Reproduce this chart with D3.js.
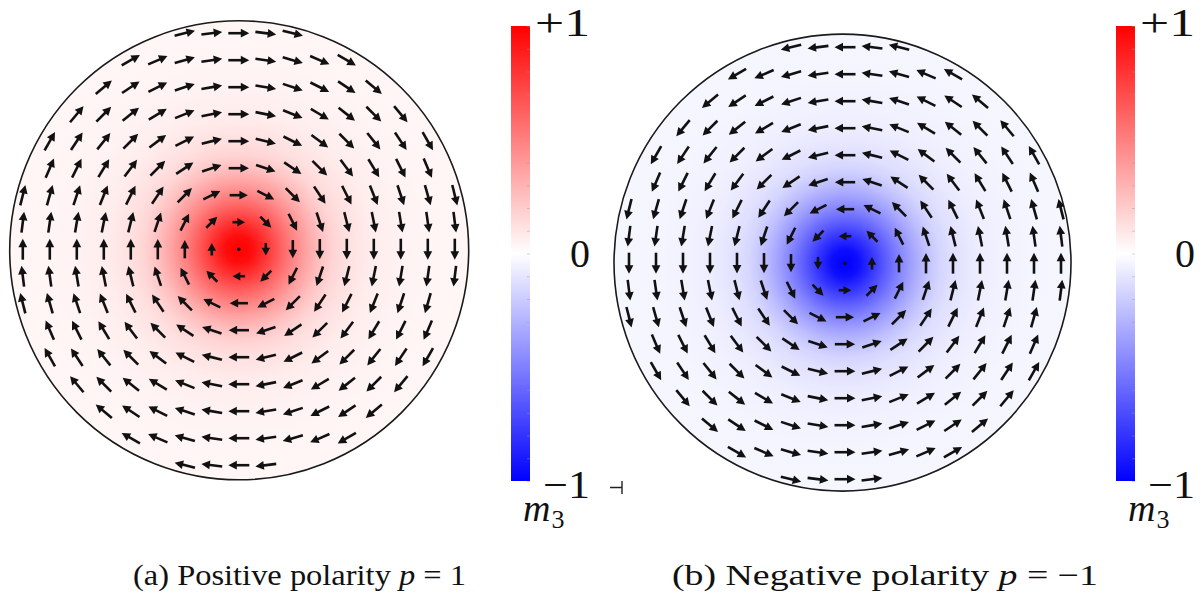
<!DOCTYPE html>
<html>
<head>
<meta charset="utf-8">
<script src="https://cdn.jsdelivr.net/npm/d3@7"></script>
<style>
  body { margin: 0; background: #fff; }
  svg { display: block; }
  text { fill: #111; }
</style>
</head>
<body>
<svg id="fig" width="1202" height="603"></svg>
<script>
// Mesh rows (k = -8..8, top to bottom) and the column range of nodes in each row
const rowIndex = [-8, -7, -6, -5, -4, -3, -2, -1, 0, 1, 2, 3, 4, 5, 6, 7, 8];
const colMin   = [-2, -4, -5, -6, -7, -7, -8, -8, -8, -8, -8, -7, -7, -6, -5, -4, -2];
const colMax   = [ 2,  4,  5,  6,  7,  7,  8,  8,  8,  8,  7,  7,  7,  6,  5,  4,  1];

// Radial profile of the out-of-plane magnetisation |m3| (r in mesh spacings)
const profileR  = [0, 0.5, 1, 1.5, 2, 2.5, 3, 3.5, 4, 5, 6, 7, 9];
const profileM3 = [1, 0.95, 0.8, 0.64, 0.49, 0.36, 0.25, 0.17, 0.12, 0.07, 0.05, 0.04, 0.035];

// The two panels: core polarity and caption
const polarity      = [1, -1];
const captionText   = ["(a) Positive polarity ", "(b) Negative polarity "];
const captionValue  = ["1", "\u22121"];

// Colour bar ticks
const cbarTicks      = [1, 0, -1];
const cbarTickLabels = ["+1", "0", "\u22121"];
const cbarLabel      = "m";
const cbarLabelSub   = "3";

const SERIF = '"Liberation Serif", "Times New Roman", Times, "DejaVu Serif", serif';

const svg = d3.select("#fig");
const defs = svg.append("defs");

const color = d3.scaleLinear()
  .domain([-1, 0, 1])
  .range(["#0000ff", "#ffffff", "#ff0000"]);
const m3At = d3.scaleLinear().domain(profileR).range(profileM3).clamp(true);

const panels = [
  { cx: 238.8, cy: 249.2, step: 27.0, diskX: 239.2, diskY: 250.3, diskR: 229.5,
    barX: 511, capX: 133, capW: 333, capEndX: 590, labX: 523 },
  { cx: 845.0, cy: 263.2, step: 27.0, diskX: 842.5, diskY: 262.6, diskR: 228.5,
    barX: 1116, capX: 672, capW: 426, capEndX: 1195, labX: 1128 }
];

const barTop = 26, barBottom = 481, barW = 19;
const arrowMax = 21, headLen = 8.5, headHalf = 4.4;
const labelWidth = { "+1": 55, "0": 20, "\u22121": 47 };

panels.forEach((P, pi) => {
  const p = polarity[pi];
  const g = svg.append("g");

  const x = d3.scaleLinear().domain([-8, 8]).range([P.cx - 8 * P.step, P.cx + 8 * P.step]);
  const y = d3.scaleLinear().domain([-8, 8]).range([P.cy - 8 * P.step, P.cy + 8 * P.step]);
  const rPix = d3.scaleLinear().domain([0, 9]).range([0, 9 * P.step]);

  // m3 background of the disk
  const grad = defs.append("radialGradient")
    .attr("id", "core" + pi)
    .attr("gradientUnits", "userSpaceOnUse")
    .attr("cx", x(0)).attr("cy", y(0)).attr("r", rPix(9))
    .attr("fx", x(0)).attr("fy", y(0));
  grad.selectAll("stop").data(profileR).join("stop")
    .attr("offset", d => d / 9)
    .attr("stop-color", (d, i) => color(p * profileM3[i]));

  g.append("circle")
    .attr("cx", P.diskX).attr("cy", P.diskY).attr("r", P.diskR)
    .attr("fill", "url(#core" + pi + ")")
    .attr("stroke", "#1a1a1a").attr("stroke-width", 1.6);

  // mesh nodes
  const nodes = [];
  rowIndex.forEach((k, ri) => {
    for (let i = colMin[ri]; i <= colMax[ri]; i++) nodes.push({ i, k });
  });

  // in-plane magnetisation: vortex circulating around the core
  const arrows = g.append("g");
  nodes.forEach(n => {
    const r = Math.hypot(n.i, n.k);
    const px = x(n.i), py = y(n.k);
    if (r === 0) {
      arrows.append("circle").attr("cx", px).attr("cy", py).attr("r", 1.8).attr("fill", "#111");
      return;
    }
    const m = m3At(r);
    const L = arrowMax * Math.sqrt(1 - m * m);
    const tx = p * (-n.k) / r, ty = p * (n.i) / r;
    const nx = -ty, ny = tx;
    const h = Math.min(headLen, L * 0.62);
    const hw = Math.min(headHalf, h * 0.55);
    const tipX = px + tx * L / 2, tipY = py + ty * L / 2;
    const tailX = px - tx * L / 2, tailY = py - ty * L / 2;
    const bx = tipX - tx * h, by = tipY - ty * h;
    arrows.append("line")
      .attr("x1", tailX).attr("y1", tailY)
      .attr("x2", bx + tx * 1.5).attr("y2", by + ty * 1.5)
      .attr("stroke", "#111").attr("stroke-width", 2.6);
    arrows.append("path")
      .attr("d", `M${tipX},${tipY}L${bx + nx * hw},${by + ny * hw}L${bx - nx * hw},${by - ny * hw}Z`)
      .attr("fill", "#111");
  });

  // colour bar
  const cy = d3.scaleLinear().domain([-1, 1]).range([barBottom, barTop]);
  const lg = defs.append("linearGradient")
    .attr("id", "cbar" + pi)
    .attr("x1", 0).attr("y1", 0).attr("x2", 0).attr("y2", 1);
  lg.selectAll("stop").data([1, 0, -1]).join("stop")
    .attr("offset", d => (1 - d) / 2)
    .attr("stop-color", d => color(d));
  g.append("rect")
    .attr("x", P.barX).attr("y", barTop).attr("width", barW).attr("height", barBottom - barTop)
    .attr("fill", "url(#cbar" + pi + ")");

  const axis = g.append("g")
    .attr("transform", `translate(${P.barX + barW},0)`)
    .call(d3.axisLeft(cy).tickValues(d3.range(-10, 11).map(v => v / 10)).tickSize(3).tickFormat(""));
  axis.select(".domain").remove();
  axis.selectAll(".tick line").attr("stroke", "#9a9a9a").attr("stroke-opacity", 0.55).attr("stroke-width", 0.8);

  // tick label baselines sit slightly outside the bar ends
  const labelY = d3.scaleLinear().domain([-1, 1]).range([498, 36]);
  g.selectAll("text.cb").data(cbarTicks).join("text")
    .attr("class", "cb")
    .attr("font-family", SERIF)
    .attr("x", P.capEndX)
    .attr("y", d => labelY(d))
    .attr("text-anchor", "end")
    .attr("font-size", 39)
    .attr("textLength", (d, i) => labelWidth[cbarTickLabels[i]])
    .attr("lengthAdjust", "spacingAndGlyphs")
    .text((d, i) => cbarTickLabels[i]);

  const lab = g.append("text")
    .attr("font-family", SERIF)
    .attr("x", P.labX).attr("y", 521)
    .attr("font-size", 38);
  lab.append("tspan").attr("font-style", "italic").text(cbarLabel);
  lab.append("tspan").attr("font-size", 26).attr("dy", 7).attr("dx", 1).text(cbarLabelSub);

  // caption
  const cap = g.append("text")
    .attr("font-family", SERIF)
    .attr("x", P.capX).attr("y", 585)
    .attr("font-size", 30)
    .attr("textLength", P.capW)
    .attr("lengthAdjust", "spacingAndGlyphs");
  cap.append("tspan").text(captionText[pi]);
  cap.append("tspan").attr("font-style", "italic").text("p");
  cap.append("tspan").text(" = " + captionValue[pi]);
});

// small stray mark beside the second disk
svg.append("path")
  .attr("d", "M610,487.5H622M622,481V494")
  .attr("stroke", "#222").attr("stroke-width", 1.4).attr("fill", "none");
</script>
</body>
</html>
